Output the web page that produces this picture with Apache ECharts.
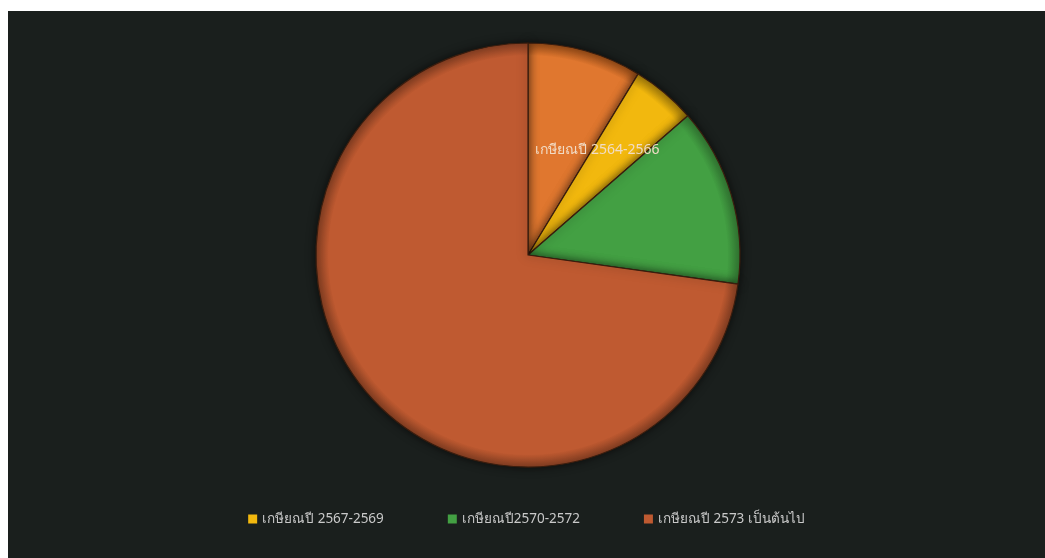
<!DOCTYPE html>
<html>
<head>
<meta charset="utf-8">
<script src="https://cdn.jsdelivr.net/npm/echarts@6/dist/echarts.min.js"></script>
<style>
html,body{margin:0;padding:0;background:#ffffff;width:1045px;height:558px;overflow:hidden;}
#chart{position:absolute;left:8px;top:11px;width:1037px;height:547px;}
</style>
</head>
<body>
<div id="chart"></div>
<script>
// Data (percent shares, read clockwise from 12 o'clock)
const categories = ['เกษียณปี 2564-2566', 'เกษียณปี 2567-2569', 'เกษียณปี2570-2572', 'เกษียณปี 2573 เป็นต้นไป'];
const values = [8.7, 4.9, 13.6, 72.8];
const legendItems = ['เกษียณปี 2567-2569', 'เกษียณปี2570-2572', 'เกษียณปี 2573 เป็นต้นไป'];
const colors = ['#e0772f', '#f2b80e', '#43a043', '#bf5a31'];

const CX = 520, CY = 244, R = 212;
const chart = echarts.init(document.getElementById('chart'));
const data = categories.map((name, i) => ({
  name: name,
  value: values[i],
  itemStyle: {
    color: {
      type: 'radial', x: CX, y: CY, r: R, global: true,
      colorStops: [
        { offset: 0, color: colors[i] },
        { offset: 0.94, color: colors[i] },
        { offset: 1, color: echarts.color.modifyHSL(colors[i], null, null, 0.33) }
      ]
    }
  },
  label: i === 0 ? {
    show: true, position: 'inside', color: '#f1dcc6', fontSize: 14,
    fontFamily: 'Noto Sans', padding: [0, 0, 0, 80],
    formatter: '{b}'
  } : { show: false }
}));

chart.setOption({
  backgroundColor: '#1a1f1d',
  animation: false,
  color: colors,
  legend: {
    data: legendItems.map(n => ({
      name: n,
      itemStyle: { color: colors[categories.indexOf(n)], borderWidth: 0, shadowBlur: 0 }
    })),
    bottom: 27,
    left: 'center',
    itemWidth: 9,
    itemHeight: 9,
    icon: 'rect',
    itemGap: 64,
    textStyle: { color: '#c9c9c9', fontSize: 13.5, fontFamily: 'Noto Sans' }
  },
  series: [{
    type: 'pie',
    center: [CX, CY],
    radius: [0, R],
    startAngle: 90,
    clockwise: true,
    data: data,
    labelLine: { show: false },
    itemStyle: {
      borderColor: '#3a1d0e',
      borderWidth: 1.2,
      shadowBlur: 10,
      shadowColor: 'rgba(0,0,0,0.6)'
    },
    emphasis: { disabled: true }
  }]
});
</script>
</body>
</html>
